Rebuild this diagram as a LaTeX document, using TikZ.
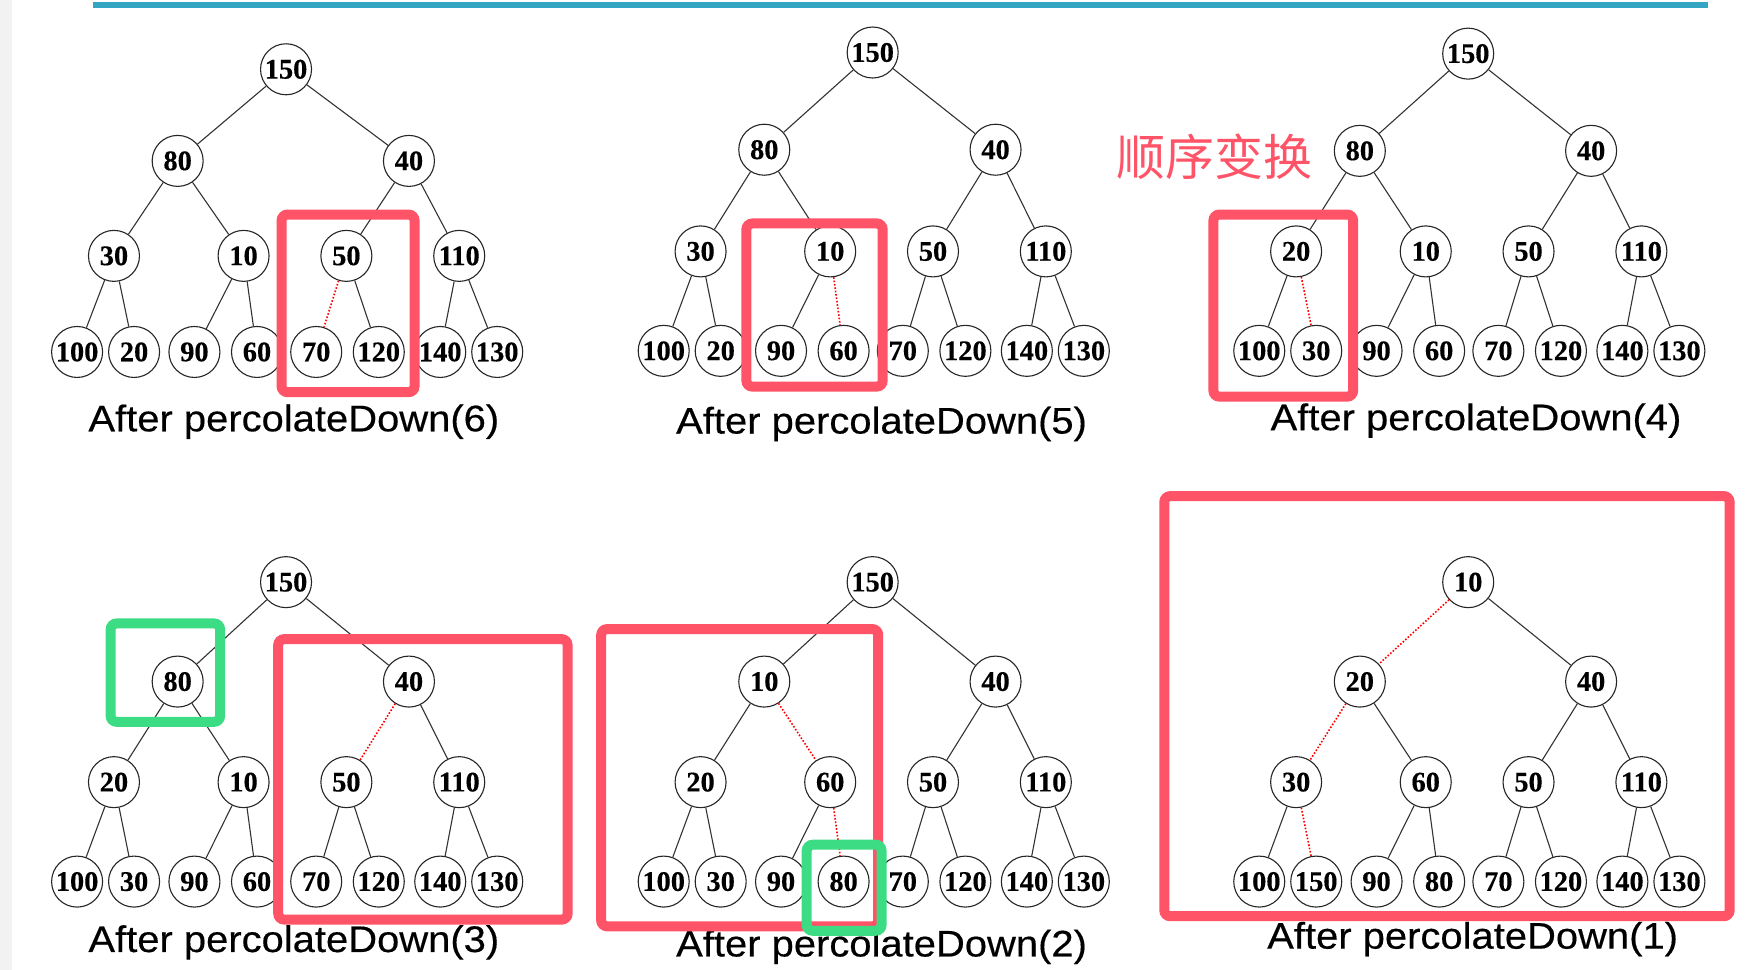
\documentclass[tikz,border=0pt]{standalone}
\usepackage{fontspec}
\setmainfont{Liberation Serif}
\newfontfamily\capfont[FakeStretch=1.08,FakeBold=0.4]{Liberation Sans}
\newfontfamily\numfont[FakeBold=0.3]{Liberation Serif Bold}
\newfontfamily\cjk{Noto Sans CJK SC}
\definecolor{boxred}{HTML}{FF5468}
\definecolor{boxgreen}{HTML}{3CDC84}
\definecolor{topteal}{HTML}{34A6C4}
\newcommand{\heap}[9]{%
  \foreach \lab [count=\i] in {#7} {
    \pgfmathsetmacro\dx{{0,-97,110,-154,-38,54,155,-187,-136,-82,-26,27,83,138,189}[\i-1]}
    \pgfmathsetmacro\yy{\i<2 ? #3 : (\i<4 ? #4 : (\i<8 ? #5 : #6))}
    \node[hn] (#1\i) at (#2+\dx,\yy) {\lab};
  }
  \foreach \c in {#8} {
    \pgfmathtruncatemacro\p{floor(\c/2)}
    \draw[edge] (#1\p) -- (#1\c);
  }
  \foreach \c in {#9} {
    \pgfmathtruncatemacro\p{floor(\c/2)}
    \draw[dotedge] (#1\p) -- (#1\c);
  }
}
\begin{document}
\begin{tikzpicture}[x=0.5587pt,y=-0.5587pt,
  hn/.style={circle,draw=black!85,line width=0.55pt,fill=white,minimum size=25.5pt,inner sep=0pt,font=\numfont\fontsize{14.2}{15}\selectfont},
  edge/.style={draw=black!80,line width=0.55pt},
  dotedge/.style={draw=red,line width=0.8pt,dash pattern=on 0.8pt off 0.9pt},
  redbox/.style={draw=boxred,line width=5pt,rounded corners=3pt},
  greenbox/.style={draw=boxgreen,line width=5pt,rounded corners=3pt},
  captext/.style={font=\capfont\fontsize{18.5}{22}\selectfont,inner sep=0pt,anchor=base}]
\useasboundingbox (0,0) rectangle (1568,868);
\fill[white] (0,0) rectangle (1568,868);
\fill[black!5] (0,0) rectangle (11,868);
\draw[topteal,line width=3pt] (83,4.5) -- (1529,4.5);

% tree 1
\heap{a}{256}{62}{144}{229}{315}{150,80,40,30,10,50,110,100,20,90,60,70,120,140,130}{2,3,4,5,6,7,8,9,10,11,13,14,15}{12}
% tree 2
\heap{b}{781}{47}{134}{225}{314}{150,80,40,30,10,50,110,100,20,90,60,70,120,140,130}{2,3,4,5,6,7,8,9,10,12,13,14,15}{11}
% tree 3
\heap{c}{1314}{48}{135}{225}{314}{150,80,40,20,10,50,110,100,30,90,60,70,120,140,130}{2,3,4,5,6,7,8,10,11,12,13,14,15}{9}
% tree 4
\heap{d}{256}{521}{610}{700}{789}{150,80,40,20,10,50,110,100,30,90,60,70,120,140,130}{2,3,4,5,7,8,9,10,11,12,13,14,15}{6}
% tree 5
\heap{e}{781}{521}{610}{700}{789}{150,10,40,20,60,50,110,100,30,90,80,70,120,140,130}{2,3,4,6,7,8,9,10,12,13,14,15}{5,11}
% tree 6
\heap{f}{1314}{521}{610}{700}{789}{10,20,40,30,60,50,110,100,150,90,80,70,120,140,130}{3,5,6,7,8,10,11,12,13,14,15}{2,4,9}

\node[captext] (cap1) at (263,386) {After percolateDown(6)};
\node[captext] (cap2) at (789,388) {After percolateDown(5)};
\node[captext] (cap3) at (1321,385) {After percolateDown(4)};
\node[captext] (cap4) at (263,852) {After percolateDown(3)};
\node[captext] (cap5) at (789,856) {After percolateDown(2)};
\node[captext] (cap6) at (1318,849) {After percolateDown(1)};

\node[font=\cjk\fontsize{24.5}{26}\selectfont,text=boxred,inner sep=0pt] (zh) at (1087,140) {顺序变换};

\draw[redbox] (252,192) rectangle (371,351);
\draw[redbox] (668,200) rectangle (790,346);
\draw[redbox] (1086,192) rectangle (1211,355);
\draw[redbox] (249,572) rectangle (508,823);
\draw[redbox] (538,563) rectangle (786,829);
\draw[redbox] (1042,444) rectangle (1548,820);
\draw[greenbox] (99,558) rectangle (197,646);
\draw[greenbox] (722,756) rectangle (789,833);
\end{tikzpicture}
\end{document}
